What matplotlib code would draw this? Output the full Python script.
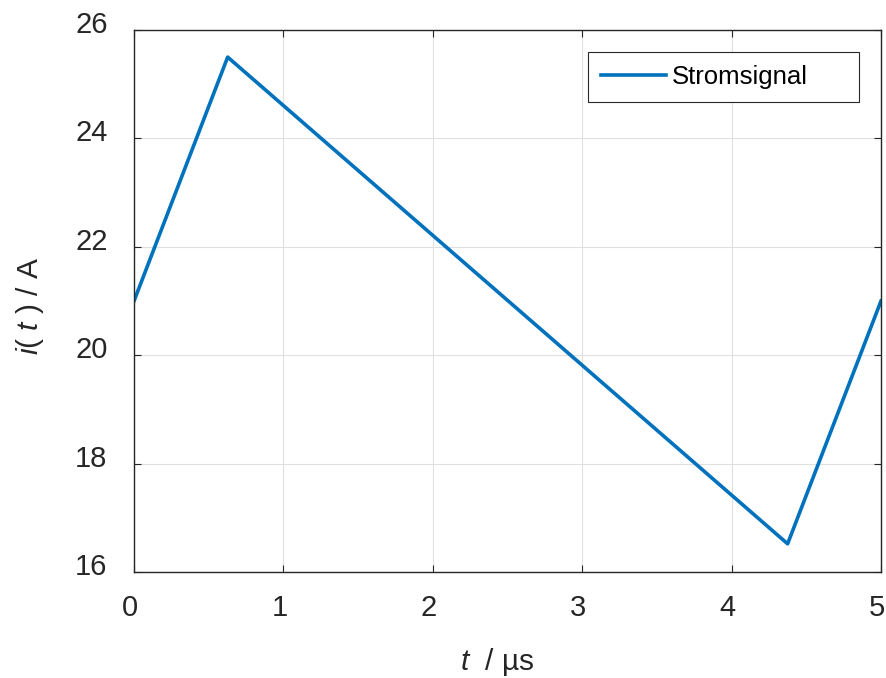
import matplotlib
matplotlib.use("Agg")
import matplotlib.pyplot as plt
import matplotlib.transforms as mtransforms

plt.rcParams['font.family'] = ['Liberation Sans', 'DejaVu Sans']
plt.rcParams['mathtext.fontset'] = 'custom'
plt.rcParams['mathtext.it'] = 'Liberation Sans:italic'
plt.rcParams['mathtext.rm'] = 'Liberation Sans'

t_us = [0.0, 0.627, 4.375, 5.0]
i_A = [21.0, 25.5, 16.52, 21.0]
xticks = [0, 1, 2, 3, 4, 5]
yticks = [16, 18, 20, 22, 24, 26]

W, H = 887, 678
fig = plt.figure(figsize=(W/100, H/100), dpi=100)
ax = fig.add_axes([134/W, 1-572/H, (881-134)/W, (572-30)/H])
ax.plot(t_us, i_A, color='#0072BD', lw=2.6, label='Stromsignal')
ax.set_xlim(0, 5)
ax.set_ylim(16, 26)
ax.set_xticks(xticks)
ax.set_yticks(yticks)
ax.grid(True, color='#e0e0e0', lw=0.8)
ax.set_axisbelow(True)
for s in ax.spines.values():
    s.set_color('#262626')
    s.set_linewidth(1.0)
ax.tick_params(direction='in', length=5, width=0.8, colors='#262626', labelsize=21,
               top=True, right=True)
ax.tick_params(axis='y', pad=19)
ax.tick_params(axis='x', pad=16)

dx = mtransforms.ScaledTranslation(-4/100, 0, fig.dpi_scale_trans)
dy = mtransforms.ScaledTranslation(0, 8/100, fig.dpi_scale_trans)
for lab in ax.get_xticklabels():
    lab.set_transform(lab.get_transform() + dx)
for lab in ax.get_yticklabels():
    lab.set_transform(lab.get_transform() + dy)

ax.set_xlabel(r'$t$  / µs', fontsize=21.5, color='#262626')
ax.set_ylabel(r'$i$( $t$ ) / A', fontsize=21.5, color='#262626')
ax.xaxis.set_label_coords((497-134)/747, (572-662)/542)
ax.yaxis.set_label_coords((30-134)/747, (572-306)/542)
ax.xaxis.label.set_va('center')
ax.yaxis.label.set_va('center')
x0, y0, x1, y1 = 588/W, 1-103/H, 859/W, 1-52/H
leg = ax.legend(loc='upper left', bbox_to_anchor=(x0, y0, x1-x0, y1-y0), bbox_transform=fig.transFigure,
                mode='expand', fontsize=18.5, fancybox=False, edgecolor='#262626', framealpha=1,
                borderaxespad=0, handlelength=2.55, borderpad=0.5, handletextpad=0.2)
leg.get_frame().set_linewidth(0.8)
fig.savefig('out.png', dpi=100)
